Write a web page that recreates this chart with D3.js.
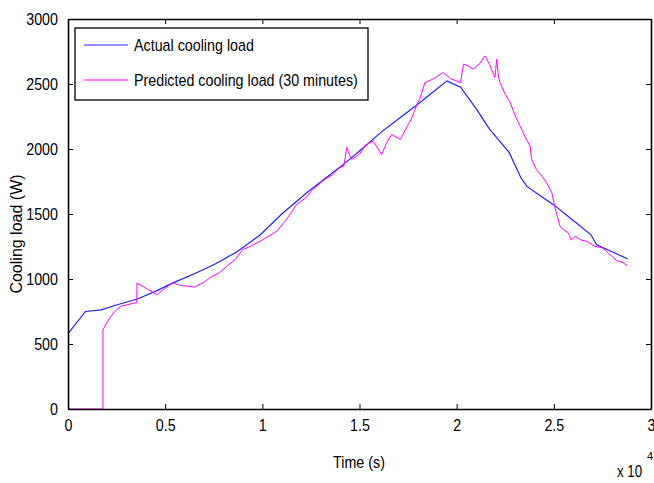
<!DOCTYPE html>
<html>
<head>
    <meta charset="UTF-8">
    <script src="https://cdn.jsdelivr.net/npm/d3@7/dist/d3.min.js"></script>
    <style>
        body { margin: 0; background: #fff; }
        text { font-family: "Liberation Sans", Arial, sans-serif; fill: #000; }
    </style>
</head>
<body>
<svg id="chart" width="654" height="483"></svg>
<script>
    // time in units of 10^4 s, load in W
    var actualT = [0, 0.09, 0.17, 0.25, 0.36, 0.45, 0.54, 0.65, 0.75, 0.87, 0.99, 1.1, 1.23, 1.33, 1.43, 1.52, 1.61, 1.7, 1.8, 1.88, 1.95, 2.02, 2.1, 2.17, 2.27, 2.33, 2.36, 2.43, 2.5, 2.6, 2.69, 2.72, 2.8, 2.88];
    var actualY = [580, 750, 762, 800, 848, 905, 970, 1040, 1110, 1210, 1340, 1500, 1665, 1780, 1897, 2010, 2128, 2230, 2344, 2440, 2524, 2475, 2310, 2151, 1974, 1781, 1714, 1640, 1570, 1450, 1342, 1264, 1210, 1154];

    var predT = [0, 0.18, 0.18, 0.2, 0.216, 0.24, 0.27, 0.3, 0.33, 0.354, 0.355, 0.4, 0.456, 0.47, 0.49, 0.52, 0.54, 0.58, 0.65, 0.7, 0.73, 0.78, 0.817, 0.86, 0.9, 0.95, 1.0, 1.074, 1.12, 1.177, 1.22, 1.26, 1.32, 1.36, 1.4, 1.42, 1.434, 1.45, 1.46, 1.5, 1.53, 1.57, 1.614, 1.64, 1.666, 1.71, 1.77, 1.8, 1.81, 1.837, 1.88, 1.93, 1.97, 2.02, 2.035, 2.06, 2.086, 2.12, 2.146, 2.17, 2.197, 2.206, 2.215, 2.223, 2.25, 2.275, 2.3, 2.326, 2.35, 2.378, 2.386, 2.41, 2.44, 2.463, 2.49, 2.506, 2.532, 2.55, 2.575, 2.59, 2.61, 2.64, 2.67, 2.712, 2.75, 2.78, 2.8, 2.824, 2.85, 2.88];
    var predY = [0, 0, 609, 665, 700, 750, 789, 800, 812, 817, 969, 930, 879, 895, 917, 950, 971, 950, 938, 975, 1010, 1050, 1097, 1150, 1226, 1260, 1300, 1367, 1450, 1573, 1620, 1688, 1766, 1800, 1858, 1870, 2012, 1950, 1920, 1960, 2030, 2061, 1958, 2050, 2112, 2074, 2241, 2359, 2382, 2511, 2540, 2588, 2540, 2511, 2652, 2640, 2614, 2660, 2716, 2650, 2550, 2691, 2560, 2511, 2420, 2359, 2260, 2177, 2100, 2022, 1920, 1843, 1790, 1740, 1663, 1547, 1405, 1380, 1354, 1300, 1328, 1300, 1290, 1251, 1240, 1200, 1174, 1141, 1130, 1102];

    var xTicks = [0, 0.5, 1, 1.5, 2, 2.5, 3];
    var yTicks = [0, 500, 1000, 1500, 2000, 2500, 3000];
    var seriesNames = ["Actual cooling load", "Predicted cooling load (30 minutes)"];
    var seriesColors = ["#2020f0", "#ff00ff"];

    var pLeft = 68, pRight = 651, pTop = 19, pBottom = 409;

    // squeeze text horizontally (the original font is a narrow one)
    function narrow(sel, k) {
        sel.each(function() {
            var w = this.getComputedTextLength();
            d3.select(this).attr("textLength", w * k).attr("lengthAdjust", "spacingAndGlyphs");
        });
    }

    var svg = d3.select("#chart");
    var x = d3.scaleLinear().domain([0, 3]).range([pLeft, pRight]);
    var y = d3.scaleLinear().domain([0, 3000]).range([pBottom, pTop]);

    var line = d3.line()
            .x(function(d) { return x(d[0]); })
            .y(function(d) { return y(d[1]); });

    var actual = actualT.map(function(t, i) { return [t, actualY[i]]; });
    var pred = predT.map(function(t, i) { return [t, predY[i]]; });

    svg.append("path").datum(actual)
            .attr("d", line).attr("fill", "none")
            .attr("stroke", seriesColors[0]).attr("stroke-width", 1.2);
    svg.append("path").datum(pred)
            .attr("d", line).attr("fill", "none")
            .attr("stroke", seriesColors[1]).attr("stroke-width", 1);

    // axes, MATLAB style box with inward ticks
    var xAxis = d3.axisBottom(x).tickValues(xTicks).tickSizeInner(-5).tickSizeOuter(0).tickPadding(10)
            .tickFormat(function(d) { return d; });
    var yAxis = d3.axisLeft(y).tickValues(yTicks).tickSizeInner(-5).tickSizeOuter(0).tickPadding(10)
            .tickFormat(d3.format("d"));

    var gx = svg.append("g").attr("transform", "translate(0," + pBottom + ")").call(xAxis);
    var gy = svg.append("g").attr("transform", "translate(" + pLeft + ",0)").call(yAxis);
    svg.append("g").attr("transform", "translate(0," + pTop + ")")
            .call(d3.axisTop(x).tickValues(xTicks).tickSizeInner(-5).tickSizeOuter(0).tickFormat(""));
    svg.append("g").attr("transform", "translate(" + pRight + ",0)")
            .call(d3.axisRight(y).tickValues(yTicks).tickSizeInner(-5).tickSizeOuter(0).tickFormat(""));

    svg.selectAll(".domain").attr("stroke", "#000").attr("stroke-width", 1.6);
    svg.selectAll(".tick line").attr("stroke", "#000").attr("stroke-width", 1);
    svg.selectAll(".tick text").style("font-size", "17px")
            .style("font-family", '"Liberation Sans", Arial, sans-serif');
    gy.selectAll(".tick text").attr("dy", "0.35em");
    narrow(svg.selectAll(".tick text"), 0.84);

    // axis labels
    svg.append("text").attr("x", 359).attr("y", 468).attr("text-anchor", "middle")
            .style("font-size", "17px").text("Time (s)").call(narrow, 0.84);
    svg.append("text")
            .attr("transform", "translate(22,234) rotate(-90)")
            .attr("text-anchor", "middle")
            .style("font-size", "16px").text("Cooling load (W)");
    svg.append("text").attr("x", 617).attr("y", 477).style("font-size", "17px").text("x 10").call(narrow, 0.78);
    svg.append("text").attr("x", 647).attr("y", 460).style("font-size", "11px").text("4");

    // legend
    var lg = svg.append("g");
    lg.append("rect").attr("x", 75).attr("y", 28).attr("width", 293).attr("height", 72)
            .attr("fill", "#fff").attr("stroke", "#000").attr("stroke-width", 1.3);
    seriesNames.forEach(function(name, i) {
        var yy = 45 + i * 35;
        lg.append("line").attr("x1", 84).attr("x2", 128).attr("y1", yy).attr("y2", yy)
                .attr("stroke", seriesColors[i]).attr("stroke-width", 1);
        lg.append("text").attr("x", 134).attr("y", yy).attr("dy", "0.35em")
                .style("font-size", "17px").text(name).call(narrow, 0.84);
    });
</script>
</body>
</html>
